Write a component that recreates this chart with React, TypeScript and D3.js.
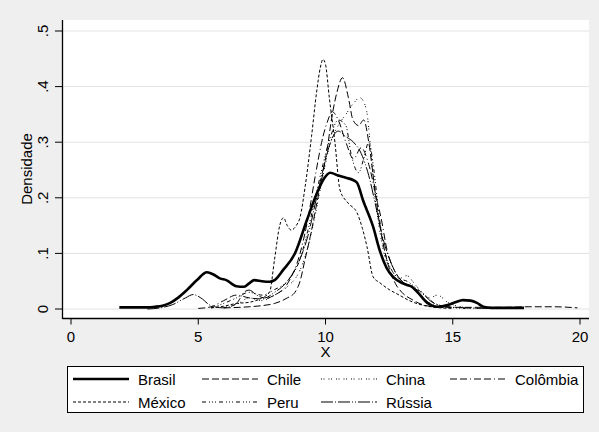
import React from "react";
import * as d3 from "d3";

const xTicks = [0, 5, 10, 15, 20];
const yTicks = [0, 0.1, 0.2, 0.3, 0.4, 0.5];
const yTickLabels = ["0", ".1", ".2", ".3", ".4", ".5"];

const brasilX = [1.9, 2.5, 3.0, 3.3, 3.6, 3.9, 4.2, 4.55, 4.95, 5.34, 5.6, 5.85, 6.1, 6.5, 6.8, 7.0, 7.2, 7.5, 7.8, 8.0, 8.33, 8.8, 9.27, 9.67, 9.95, 10.18, 10.5, 10.8, 11.08, 11.24, 11.47, 11.87, 12.14, 12.4, 12.65, 12.8, 13.2, 13.35, 13.6, 14.0, 14.4, 14.8, 15.1, 15.4, 15.7, 15.95, 16.2, 16.5, 17.0, 17.5, 17.8];
const brasilY = [0.003, 0.003, 0.003, 0.004, 0.006, 0.011, 0.02, 0.034, 0.052, 0.066, 0.062, 0.055, 0.052, 0.041, 0.04, 0.046, 0.052, 0.05, 0.049, 0.052, 0.07, 0.1, 0.16, 0.209, 0.235, 0.245, 0.24, 0.236, 0.232, 0.227, 0.196, 0.148, 0.104, 0.074, 0.058, 0.052, 0.043, 0.041, 0.031, 0.011, 0.004, 0.007, 0.012, 0.016, 0.015, 0.011, 0.004, 0.002, 0.002, 0.002, 0.002];

const chileX = [6.0, 7.0, 7.5, 8.0, 8.5, 8.8, 9.0, 9.2, 9.4, 9.7, 9.9, 10.06, 10.25, 10.45, 10.67, 10.9, 11.08, 11.3, 11.5, 11.7, 11.9, 12.1, 12.4, 12.7, 13.0, 13.4, 13.8, 14.3, 15, 16, 17, 18, 19, 19.9];
const chileY = [0.002, 0.004, 0.006, 0.01, 0.02, 0.03, 0.05, 0.09, 0.13, 0.2, 0.245, 0.286, 0.345, 0.39, 0.416, 0.38, 0.34, 0.33, 0.34, 0.3, 0.23, 0.16, 0.09, 0.05, 0.03, 0.017, 0.008, 0.004, 0.003, 0.003, 0.003, 0.004, 0.004, 0.002];

const chinaX = [6.0, 6.5, 7.0, 7.5, 8.0, 8.5, 9.0, 9.3, 9.6, 9.9, 10.2, 10.5, 10.8, 11.1, 11.35, 11.6, 11.75, 11.9, 12.1, 12.3, 12.6, 12.9, 13.2, 13.5, 13.8, 14.1, 14.4, 14.8, 15.3, 16];
const chinaY = [0.003, 0.008, 0.02, 0.015, 0.025, 0.04, 0.07, 0.11, 0.17, 0.24, 0.3, 0.33, 0.35, 0.37, 0.38, 0.36, 0.3, 0.22, 0.15, 0.1, 0.07, 0.055, 0.06, 0.045, 0.03, 0.02, 0.025, 0.012, 0.004, 0.001];

const colombiaX = [5.0, 5.5, 6.0, 6.5, 7.0, 7.5, 8.0, 8.5, 9.0, 9.3, 9.6, 9.9, 10.1, 10.26, 10.5, 10.8, 11.1, 11.4, 11.7, 12.0, 12.2, 12.4, 12.7, 13.0, 13.4, 13.8, 14.2, 14.7];
const colombiaY = [0.001, 0.004, 0.015, 0.025, 0.02, 0.018, 0.025, 0.045, 0.1, 0.16, 0.24, 0.31, 0.34, 0.355, 0.34, 0.3, 0.27, 0.29, 0.26, 0.2, 0.16, 0.11, 0.07, 0.05, 0.04, 0.02, 0.008, 0.002];

const mexicoX = [5.5, 6.0, 6.5, 7.0, 7.5, 7.8, 8.0, 8.2, 8.35, 8.5, 8.65, 8.85, 9.0, 9.2, 9.45, 9.65, 9.8, 9.9, 10.0, 10.15, 10.37, 10.57, 10.9, 11.24, 11.45, 11.63, 11.87, 12.14, 12.5, 12.9, 13.3, 13.8, 14.3, 15];
const mexicoY = [0.002, 0.005, 0.01, 0.012, 0.02, 0.03, 0.09, 0.15, 0.164, 0.15, 0.142, 0.15, 0.165, 0.22, 0.31, 0.39, 0.435, 0.449, 0.44, 0.38, 0.3, 0.214, 0.19, 0.173, 0.145, 0.112, 0.058, 0.047, 0.035, 0.025, 0.015, 0.007, 0.003, 0.001];

const peruX = [5.5, 6.0, 6.5, 7.0, 7.5, 8.0, 8.5, 9.0, 9.3, 9.6, 9.9, 10.2, 10.5, 10.8, 11.0, 11.3, 11.5, 11.7, 11.9, 12.1, 12.3, 12.6, 12.9, 13.2, 13.5, 13.9, 14.3, 14.8, 15.5];
const peruY = [0.002, 0.01, 0.02, 0.03, 0.025, 0.035, 0.05, 0.09, 0.14, 0.2, 0.26, 0.31, 0.34, 0.33, 0.28, 0.245, 0.27, 0.3, 0.25, 0.17, 0.11, 0.07, 0.055, 0.05, 0.04, 0.025, 0.01, 0.004, 0.001];

const russiaX = [3.0, 3.5, 4.0, 4.5, 4.8, 5.1, 5.5, 6.0, 6.5, 6.8, 7.0, 7.3, 7.6, 8.0, 8.5, 9.0, 9.3, 9.6, 9.9, 10.2, 10.5, 10.8, 11.1, 11.4, 11.7, 12.0, 12.3, 12.6, 13.0, 13.4, 13.8, 14.2, 14.8, 15.5, 16.5, 17.5];
const russiaY = [0.0, 0.002, 0.008, 0.02, 0.026, 0.02, 0.006, 0.002, 0.01, 0.03, 0.034, 0.025, 0.02, 0.03, 0.05, 0.09, 0.13, 0.19, 0.25, 0.3, 0.32, 0.31, 0.3, 0.28, 0.24, 0.18, 0.12, 0.08, 0.05, 0.04, 0.028, 0.012, 0.004, 0.002, 0.001, 0.001];

const seriesNames = ["Brasil", "Chile", "China", "Colômbia", "México", "Peru", "Rússia"];
const seriesXs = [brasilX, chileX, chinaX, colombiaX, mexicoX, peruX, russiaX];
const seriesYs = [brasilY, chileY, chinaY, colombiaY, mexicoY, peruY, russiaY];
const seriesDash = ["", "7,3", "1,1.5,1,4", "7,3,7,3,1,3", "3,2", "4,3,1,2,1,2,1,3", "12,2,1,2,12,2,1,2,1,2"];
const seriesWidth = [2.6, 1, 1, 1, 1, 1, 1];

const W = 599;
const H = 432;
const FONT = "'Liberation Sans', Arial, sans-serif";

export default function App() {
  const x = d3.scaleLinear().domain([0, 20]).range([71, 580]);
  const y = d3.scaleLinear().domain([0, 0.5]).range([309, 31]);
  const plotL = 62.5, plotR = 589, plotT = 20, plotB = 318.5;

  const line = d3
    .line<[number, number]>()
    .x((d) => x(d[0]))
    .y((d) => y(d[1]))
    .curve(d3.curveMonotoneX);

  const legendCols = [73, 202, 321, 450];
  const legendRows = [379, 402];
  const keyLen = 56;

  return (
    <div style={{ position: "fixed", left: 0, top: 0, width: W, height: H }}>
      <svg width={W} height={H} style={{ display: "block", fontFamily: FONT }}>
        <rect x={0} y={0} width={W} height={H} fill="#efefef" />
        <rect x={plotL} y={plotT} width={plotR - plotL} height={plotB - plotT} fill="#ffffff" />
        {yTicks.map((t) => (
          <line key={"g" + t} x1={plotL} x2={plotR} y1={y(t)} y2={y(t)} stroke="#e2e2e2" strokeWidth={1} />
        ))}
        {seriesNames.map((name, i) => {
          const pts = seriesXs[i].map((v, j) => [v, seriesYs[i][j]] as [number, number]);
          return (
            <path
              key={name}
              d={line(pts) || ""}
              fill="none"
              stroke="#000"
              strokeWidth={seriesWidth[i]}
              strokeDasharray={seriesDash[i] || undefined}
              strokeLinejoin="round"
            />
          );
        })}
        <line x1={plotL} x2={plotL} y1={plotT} y2={plotB + 0.5} stroke="#000" strokeWidth={1.3} />
        <line x1={plotL} x2={plotR} y1={plotB} y2={plotB} stroke="#000" strokeWidth={1.3} />
        {yTicks.map((t, i) => (
          <g key={"yt" + t}>
            <line x1={55} x2={plotL} y1={y(t)} y2={y(t)} stroke="#000" strokeWidth={1} />
            <text
              transform={`translate(48,${y(t)}) rotate(-90)`}
              textAnchor="middle"
              fontSize={15}
              fill="#000"
            >
              {yTickLabels[i]}
            </text>
          </g>
        ))}
        {xTicks.map((t) => (
          <g key={"xt" + t}>
            <line x1={x(t)} x2={x(t)} y1={plotB} y2={plotB + 6} stroke="#000" strokeWidth={1} />
            <text x={x(t)} y={341.5} textAnchor="middle" fontSize={15} fill="#000">
              {t}
            </text>
          </g>
        ))}
        <text transform="translate(32,169) rotate(-90)" textAnchor="middle" fontSize={15} fill="#000">
          Densidade
        </text>
        <text x={x(10)} y={357} textAnchor="middle" fontSize={15} fill="#000">
          X
        </text>
        <rect x={67.5} y={366.5} width={516} height={46} fill="#fff" stroke="#000" strokeWidth={1} />
        {seriesNames.map((name, i) => {
          const col = i % 4;
          const row = Math.floor(i / 4);
          const lx = legendCols[col];
          const ly = legendRows[row];
          return (
            <g key={"lg" + name}>
              <line
                x1={lx}
                x2={lx + keyLen}
                y1={ly}
                y2={ly}
                stroke="#000"
                strokeWidth={seriesWidth[i]}
                strokeDasharray={seriesDash[i] || undefined}
              />
              <text x={lx + 65} y={ly + 5.5} fontSize={15} fill="#000">
                {name}
              </text>
            </g>
          );
        })}
      </svg>
    </div>
  );
}
